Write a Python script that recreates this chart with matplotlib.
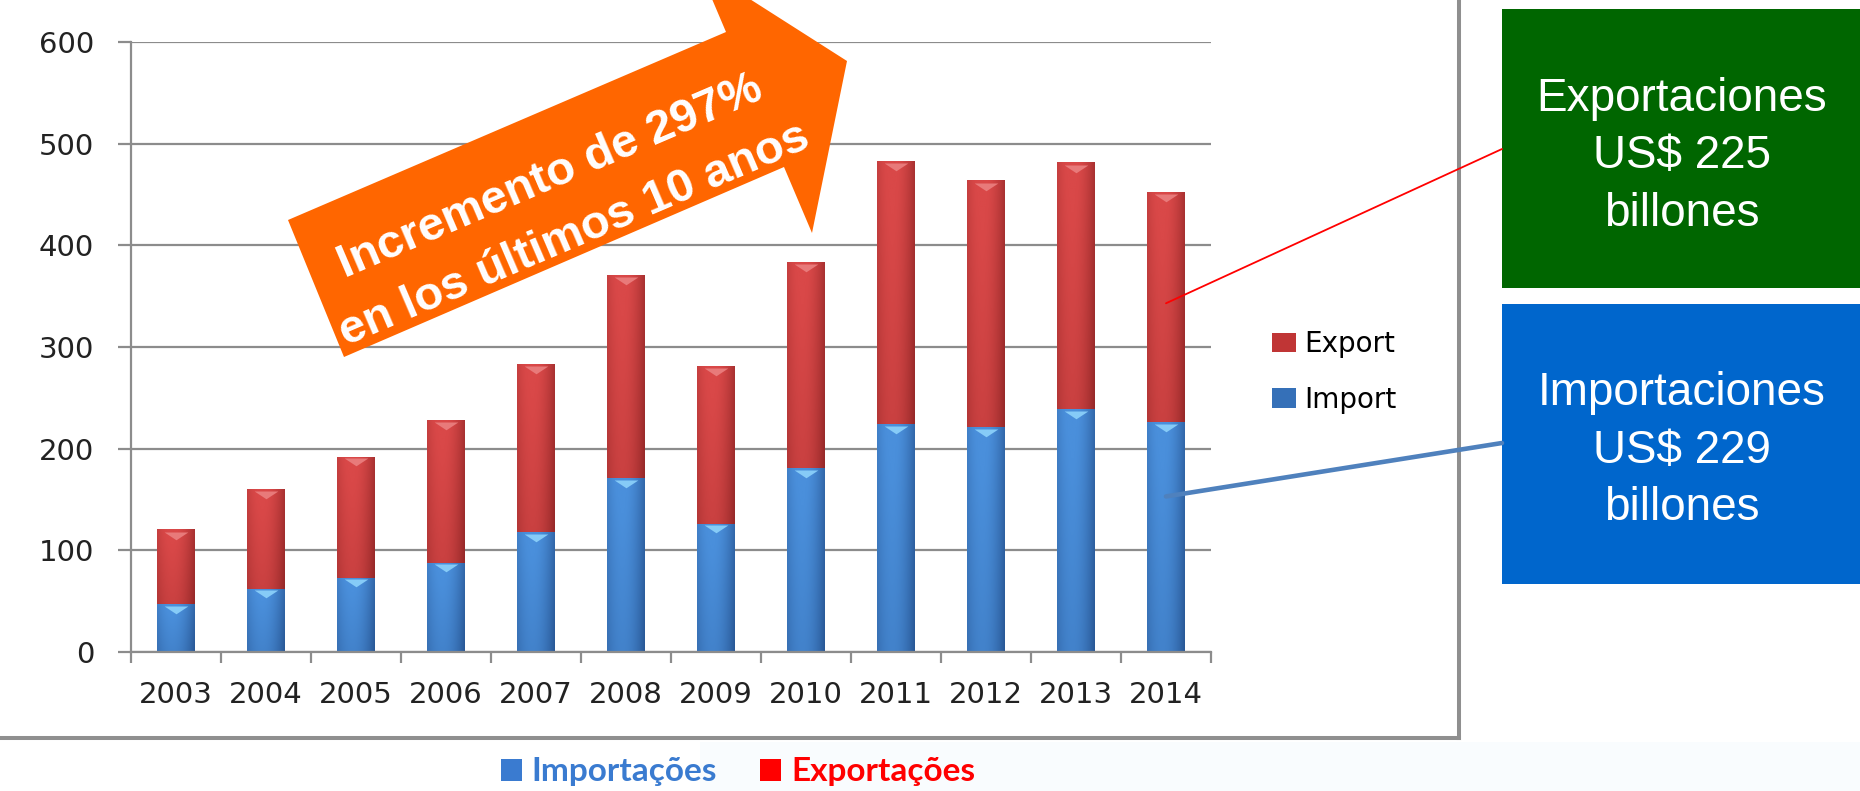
import numpy as np
import matplotlib
matplotlib.use('Agg')
from matplotlib import pyplot as plt
from matplotlib.colors import LinearSegmentedColormap
from matplotlib.patches import Polygon, Rectangle, Patch, ConnectionPatch
from matplotlib.lines import Line2D
from matplotlib.path import Path

# data (billions US$)
years = ['2003', '2004', '2005', '2006', '2007', '2008',
         '2009', '2010', '2011', '2012', '2013', '2014']
imports = [47, 62, 73, 88, 118, 171, 126, 181, 224, 221, 239, 226]
exports = [73, 98, 119, 140, 165, 199, 155, 202, 258, 242, 242, 226]
yticks = [0, 100, 200, 300, 400, 500, 600]
series_labels = ['Export', 'Import']
bottom_labels = ['Importações', 'Exportações']
arrow_lines = ['Incremento de 297%', 'en los últimos 10 anos']
export_box = ['Exportaciones', 'US$ 225', 'billones']
import_box = ['Importaciones', 'US$ 229', 'billones']

W, H = 1860, 791


def fx(x):
    return x / W


def fy(y):
    return 1 - y / H


def shade(ax, bars, dark, light, tri):
    """paint an Excel-like gradient over each bar + little top triangle"""
    cmap = LinearSegmentedColormap.from_list('g', [dark, light])
    u = np.linspace(0, 1, 64)
    v = np.linspace(0, 1, 32)[:, None]
    prof = 1 - ((u - 0.4) / 0.65) ** 2
    val = np.clip(0.8 * prof + 0.25 * v, 0, 1)
    tops = []
    for b in bars:
        x0, y0, w, h = b.get_x(), b.get_y(), b.get_width(), b.get_height()
        ax.imshow(val, cmap=cmap, vmin=0, vmax=1, origin='lower',
                  extent=(x0, x0 + w, y0, y0 + h), aspect='auto',
                  interpolation='bilinear', zorder=2)
        tops.append((x0 + w / 2, y0 + h))
    tops = np.array(tops)
    marker = Path([(-0.5, 0), (0.5, 0), (0, -0.33), (-0.5, 0)])
    ax.scatter(tops[:, 0], tops[:, 1] - 1.5, marker=marker, s=17 ** 2,
               color=tri, linewidths=0, zorder=3)


fig = plt.figure(figsize=(W / 100, H / 100), dpi=100)
fig.patch.set_facecolor('white')

ax = fig.add_axes([fx(131), fy(652), (1211 - 131) / W, (652 - 42) / H])
x = np.arange(len(years))
width = 0.42
b_imp = ax.bar(x, imports, width, color='#3a78c2', zorder=1)
b_exp = ax.bar(x, exports, width, bottom=imports, color='#c23a3a', zorder=1)
shade(ax, b_imp, '#24508c', '#4a8fdb', '#86cbf7')
shade(ax, b_exp, '#8c2424', '#d94848', '#e87a7a')

ax.set_xlim(-0.5, len(years) - 0.5)
ax.set_ylim(0, 600)
ax.set_yticks(yticks)
ax.yaxis.grid(True, color='#8c8c8c', lw=1.6)
ax.set_axisbelow(True)
for s in ['top', 'right']:
    ax.spines[s].set_visible(False)
for s in ['left', 'bottom']:
    ax.spines[s].set_color('#8c8c8c')
    ax.spines[s].set_linewidth(1.6)
ax.tick_params(axis='y', length=9.5, width=1.6, color='#8c8c8c', pad=17,
               labelsize=21, labelcolor='#222222')
ax.set_xticks(x, years)
ax.set_xticks(np.arange(-0.5, len(years), 1), minor=True)
ax.tick_params(axis='x', which='major', length=0, pad=21, labelsize=21,
               labelcolor='#222222')
ax.tick_params(axis='x', which='minor', length=8, width=1.6, color='#8c8c8c')

# legend inside the chart frame
handles = [Patch(facecolor='#c03535'), Patch(facecolor='#3570b8')]
ax.legend(handles, series_labels, loc='center left',
          bbox_to_anchor=(fx(1272), fy(372)), bbox_transform=fig.transFigure,
          frameon=False, fontsize=20, handlelength=0.85, handleheight=0.72,
          handletextpad=0.3, labelspacing=1.0, borderpad=0, borderaxespad=0)

# chart frame lines
fig.add_artist(Line2D([fx(1459), fx(1459)], [fy(0), fy(738)],
                      transform=fig.transFigure, color='#8f8f8f', lw=2.9))
fig.add_artist(Line2D([fx(0), fx(1459)], [fy(738), fy(738)],
                      transform=fig.transFigure, color='#8f8f8f', lw=2.9))

# orange arrow
arrow_px = [(344, 357), (288, 220), (726, 32), (698, -34),
            (847, 61), (812, 233), (784, 167)]
fig.add_artist(Polygon([(fx(a), fy(b)) for a, b in arrow_px], closed=True,
                       transform=fig.transFigure, facecolor='#ff6600',
                       edgecolor='none', zorder=5))
for (cx, cy), line in zip([(548, 172), (572, 230)], arrow_lines):
    fig.text(fx(cx), fy(cy), line, rotation=23.2, rotation_mode='anchor',
             ha='center', va='center_baseline', fontsize=34, fontweight='bold',
             family='Liberation Sans', color='white', zorder=6)

# boxes on the right
fig.add_artist(Rectangle((fx(1502), fy(288)), (W - 1502) / W, (288 - 9) / H,
                         transform=fig.transFigure, facecolor='#006600',
                         edgecolor='none'))
fig.add_artist(Rectangle((fx(1502), fy(584)), (W - 1502) / W, (584 - 304) / H,
                         transform=fig.transFigure, facecolor='#0066cc',
                         edgecolor='none'))
for lines, ys in [(export_box, (94, 151, 209)), (import_box, (388, 446, 503))]:
    for line, yy in zip(lines, ys):
        fig.text(fx(1682), fy(yy), line, ha='center', va='center_baseline',
                 fontsize=33, family='Liberation Sans', color='white')

# leader lines from the 2014 bar to the boxes
fig.add_artist(ConnectionPatch(xyA=(11, 343), coordsA=ax.transData,
                               xyB=(fx(1502), fy(149)), coordsB=fig.transFigure,
                               color='#ff0000', lw=1.3, zorder=4))
fig.add_artist(ConnectionPatch(xyA=(11, 153), coordsA=ax.transData,
                               xyB=(fx(1502), fy(443)), coordsB=fig.transFigure,
                               color='#4f81bd', lw=3.3, zorder=4))

# bottom legend
fig.add_artist(Rectangle((fx(700), 0), (W - 700) / W, (H - 742) / H,
                         transform=fig.transFigure, facecolor='#f9fcfe',
                         edgecolor='none', zorder=-1))
leg = fig.legend([Patch(facecolor='#3a7bd0'), Patch(facecolor='#ff0000')],
                 bottom_labels, ncol=2, loc='center',
                 bbox_to_anchor=(fx(738), fy(772)), frameon=False,
                 prop={'family': 'Lato', 'weight': 'bold', 'size': 24},
                 handlelength=0.62, handleheight=0.62, handletextpad=0.3,
                 columnspacing=1.3, borderpad=0, borderaxespad=0)
for t, c in zip(leg.get_texts(), ['#3a7bd0', '#ff0000']):
    t.set_color(c)

fig.savefig('out.png', dpi=100, facecolor='white')
